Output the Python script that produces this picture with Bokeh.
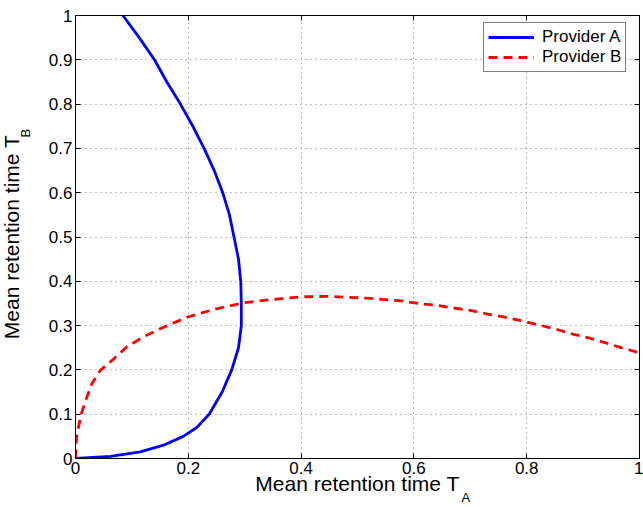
from bokeh.plotting import figure
from bokeh.models import (LinearAxis, FixedTicker, Legend, LegendItem, Range1d, Title,
                          CustomLabelingPolicy)
from bokeh.embed import file_html
from bokeh.resources import INLINE

# ---- data ----
provider_a_x = [0.000, 0.062, 0.115, 0.156, 0.191, 0.215, 0.237, 0.260, 0.277, 0.289,
                0.294, 0.294, 0.293, 0.289, 0.281, 0.273, 0.261, 0.246, 0.228, 0.208,
                0.186, 0.162, 0.140, 0.113, 0.084]
provider_a_y = [0.000, 0.005, 0.015, 0.030, 0.050, 0.070, 0.100, 0.150, 0.200, 0.250,
                0.300, 0.350, 0.400, 0.450, 0.500, 0.550, 0.600, 0.650, 0.700, 0.750,
                0.800, 0.850, 0.900, 0.950, 1.000]

provider_b_x = [0.000, 0.002, 0.010, 0.020, 0.029, 0.044, 0.068, 0.091, 0.121, 0.150,
                0.200, 0.250, 0.300, 0.350, 0.400, 0.450, 0.483, 0.516, 0.545, 0.577,
                0.607, 0.640, 0.669, 0.702, 0.731, 0.761, 0.790, 0.819, 0.852, 0.881,
                0.911, 0.940, 0.970, 1.000]
provider_b_y = [0.000, 0.050, 0.100, 0.138, 0.169, 0.199, 0.225, 0.252, 0.275, 0.293,
                0.320, 0.338, 0.352, 0.359, 0.365, 0.366, 0.364, 0.362, 0.359, 0.356,
                0.350, 0.346, 0.340, 0.334, 0.326, 0.319, 0.311, 0.302, 0.292, 0.281,
                0.272, 0.261, 0.249, 0.239]

x_ticks = [0, 0.2, 0.4, 0.6, 0.8, 1]
x_tick_labels = ["0", "0.2", "0.4", "0.6", "0.8", "1"]
y_ticks = [0, 0.1, 0.2, 0.3, 0.4, 0.5, 0.6, 0.7, 0.8, 0.9, 1]
y_tick_labels = ["0", "0.1", "0.2", "0.3", "0.4", "0.5", "0.6", "0.7", "0.8", "0.9", "1"]

series_names = ["Provider A", "Provider B"]
x_label = "Mean retention time T"
x_sub = "A"
y_label = "Mean retention time T"
y_sub = "B"

FONT = "Liberation Sans"

p = figure(width=643, height=507, output_backend="svg", toolbar_location=None,
           x_range=Range1d(0, 1), y_range=Range1d(0, 1),
           min_border_left=75, min_border_right=2, min_border_top=15, min_border_bottom=49)
p.outline_line_color = "black"
p.outline_line_width = 1
p.background_fill_color = "white"
p.border_fill_color = "white"

for ax, ticks, labels in ((p.xaxis[0], x_ticks, x_tick_labels), (p.yaxis[0], y_ticks, y_tick_labels)):
    ax.ticker = FixedTicker(ticks=ticks)
    ax.major_label_overrides = {t: l for t, l in zip(ticks, labels)}
    ax.major_tick_in = 5
    ax.major_tick_out = 0
    ax.minor_tick_in = 0
    ax.minor_tick_out = 0
    ax.axis_line_color = "black"
    ax.major_tick_line_color = "black"
    ax.major_label_text_font = FONT
    ax.major_label_text_font_size = "17px"
    ax.major_label_text_color = "black"
    ax.major_label_standoff = 3

no_labels = CustomLabelingPolicy(
    code="for (const i of Array.from(indices)) { indices.unset(i) }; return indices")
for side, ticks in (("above", x_ticks), ("right", y_ticks)):
    ax = LinearAxis(ticker=FixedTicker(ticks=ticks), major_label_text_font_size="1px",
                    major_label_policy=no_labels,
                    major_label_standoff=0, major_tick_in=5, major_tick_out=0,
                    minor_tick_in=0, minor_tick_out=0, axis_line_color="black",
                    major_tick_line_color="black")
    p.add_layout(ax, side)

p.xgrid.ticker = FixedTicker(ticks=x_ticks)
p.ygrid.ticker = FixedTicker(ticks=y_ticks)
for g in (p.xgrid[0], p.ygrid[0]):
    g.grid_line_color = "#7a7a7a"
    g.grid_line_dash = "1 4"
    g.grid_line_width = 1

ra = p.line(provider_a_x, provider_a_y, line_color="#0000ff", line_width=2.8)
rb = p.line(provider_b_x, provider_b_y, line_color="#ff0000", line_width=2.8, line_dash="9 6")

legend = Legend(items=[LegendItem(label=series_names[0], renderers=[ra]),
                       LegendItem(label=series_names[1], renderers=[rb])],
                location=(408, 386))
legend.margin = 0
legend.padding = 4
legend.spacing = 0
legend.glyph_width = 46
legend.glyph_height = 18
legend.label_standoff = 8
legend.label_text_font = FONT
legend.label_text_font_size = "17px"
legend.label_text_color = "black"
legend.border_line_color = "black"
legend.border_line_width = 1
legend.background_fill_color = "white"
legend.background_fill_alpha = 1
p.add_layout(legend)

# axis titles with subscripts (titles stack outward from the frame)
title_style = dict(text_font=FONT, text_font_style="normal", text_color="black")
p.add_layout(Title(text=x_label, align="center", offset=-1, standoff=-9,
                   vertical_align="top", text_font_size="21px", **title_style), "below")
p.add_layout(Title(text=x_sub, align="left", offset=386, standoff=-6,
                   vertical_align="top", text_font_size="13px", **title_style), "below")
p.add_layout(Title(text=y_sub, align="left", offset=321, standoff=21,
                   vertical_align="top", text_font_size="13px", **title_style), "left")
p.add_layout(Title(text=y_label, align="center", offset=-4, standoff=-31,
                   vertical_align="bottom", text_font_size="21px", **title_style), "left")

open("out.html", "w").write(file_html(p, INLINE))
